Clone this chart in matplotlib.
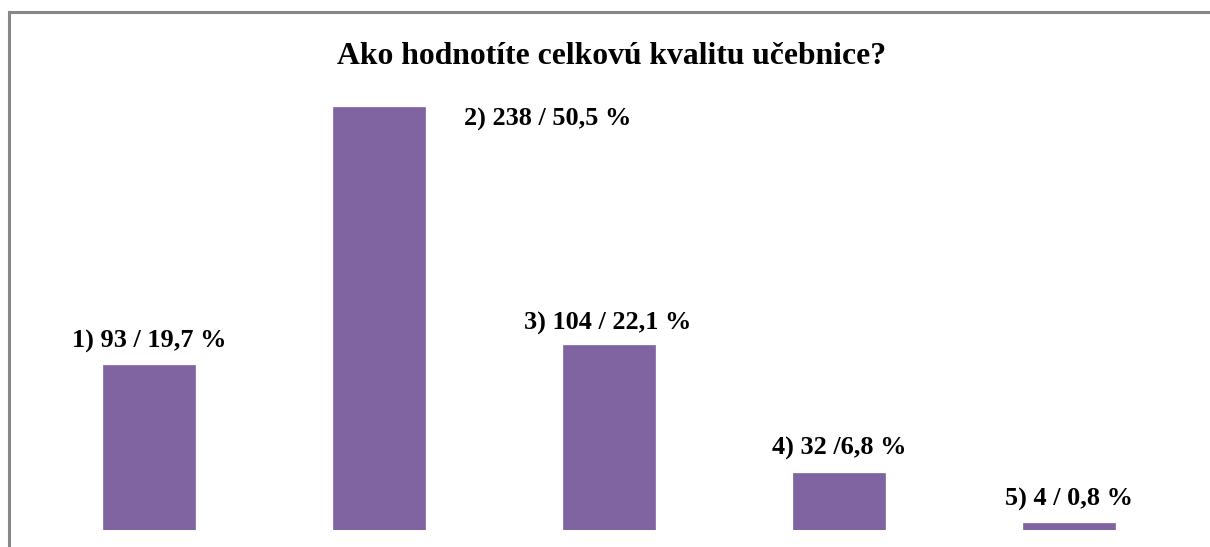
import matplotlib
matplotlib.use("Agg")
import matplotlib.pyplot as plt
from matplotlib.patches import Rectangle

# Survey answers: how respondents rate the overall quality of the textbook
categories = ["1", "2", "3", "4", "5"]
counts = [93, 238, 104, 32, 4]
labels = ["1) 93 / 19,7 %", "2) 238 / 50,5 %", "3) 104 / 22,1 %",
          "4) 32 /6,8 %", "5) 4 / 0,8 %"]
title = "Ako hodnotíte celkovú kvalitu učebnice?"

W, H = 1210, 547
fig = plt.figure(figsize=(W / 100, H / 100), dpi=100)
plt.rcParams["font.family"] = ["Liberation Serif", "DejaVu Serif"]

# Chart-area border (clipped by the image edges)
fig.patches.append(Rectangle((8.5 / W, -0.2), 2.0, (H - 11.5) / H + 0.2,
                             transform=fig.transFigure, fill=False,
                             edgecolor="#878787", linewidth=2.2))

ax = fig.add_axes([34 / W, (H - 530) / H, 1150 / W, 450 / H])
x = range(len(categories))
ax.bar(x, counts, width=0.4, color="#8064A2", edgecolor="#8064A2", linewidth=0.5)
ax.set_xlim(-0.5, len(categories) - 0.5)
ax.set_ylim(0, 253.2)
ax.axis("off")

# Label offsets in pixels from each bar's top centre
offsets = [(0, 23), (169, -12), (-1, 22), (0, 25), (0, 23)]
for i, (v, lab, off) in enumerate(zip(counts, labels, offsets)):
    ax.annotate(lab, xy=(i, v), xytext=off, textcoords="offset pixels",
                ha="center", va="center", fontsize=18.9, fontweight="bold")

fig.text(612 / W, 1 - 57 / H, title, ha="center", va="center",
         fontsize=22.8, fontweight="bold")

fig.savefig("out.png", dpi=100, facecolor="white")
